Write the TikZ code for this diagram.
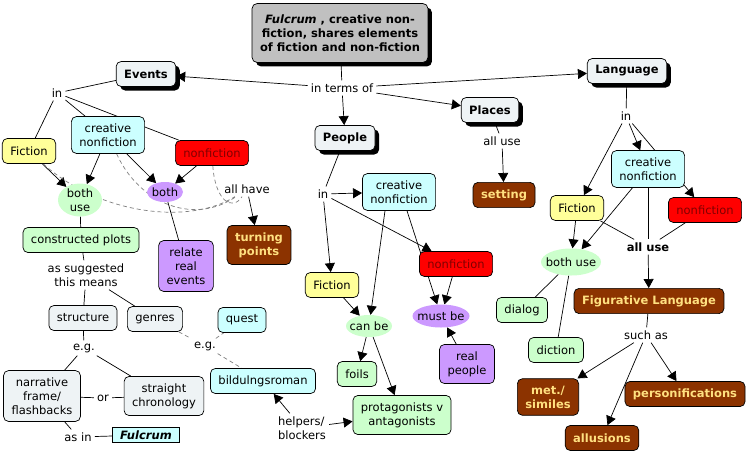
\documentclass[tikz,border=0pt]{standalone}
\usepackage{fontspec}
\setmainfont{DejaVu Sans}
\usetikzlibrary{arrows.meta,shapes.geometric,shadows,backgrounds}
\definecolor{rootgray}{RGB}{192,192,192}
\definecolor{palegray}{RGB}{238,243,245}
\definecolor{ficyellow}{RGB}{255,255,153}
\definecolor{cnfcyan}{RGB}{204,255,255}
\definecolor{nfred}{RGB}{255,0,0}
\definecolor{nftext}{RGB}{128,0,0}
\definecolor{mint}{RGB}{204,255,204}
\definecolor{lilac}{RGB}{204,153,255}
\definecolor{rust}{RGB}{140,51,0}
\definecolor{gold}{RGB}{255,224,128}
\newcommand{\mapfont}{\fontsize{11.5}{14}\selectfont}
\begin{document}
\begin{tikzpicture}[x=1pt,y=-1pt,
    conceptbox/.style={draw, rounded corners=5pt, line width=0.7pt, align=center, inner xsep=8pt, inner ysep=7pt, minimum height=25pt, font=\mapfont},
    topbox/.style={conceptbox, fill=palegray, font=\mapfont\bfseries, drop shadow={shadow xshift=4pt, shadow yshift=-4pt, fill=black, opacity=1}},
    rootbox/.style={topbox, fill=rootgray, inner ysep=11pt},
    ficbox/.style={conceptbox, fill=ficyellow},
    cnfbox/.style={conceptbox, fill=cnfcyan},
    nfbox/.style={conceptbox, fill=nfred, text=nftext},
    mintbox/.style={conceptbox, fill=mint},
    lilacbox/.style={conceptbox, fill=lilac},
    plainbox/.style={conceptbox, fill=palegray},
    rustbox/.style={conceptbox, fill=rust, text=gold, font=\mapfont\bfseries},
    oval/.style={ellipse, fill=mint, inner xsep=-4pt, inner ysep=2pt, font=\mapfont},
    link/.style={inner sep=3pt, align=center, font=\mapfont},
    fulc/.style={draw, fill=cnfcyan, line width=1pt, inner xsep=7.5pt, inner ysep=3.5pt, font=\mapfont\bfseries\itshape},
    conn/.style={line width=0.7pt},
    arr/.style={conn, -{Triangle[length=9pt,width=10pt]}},
    xlink/.style={conn, gray, dash pattern=on 4pt off 3pt}]
    \useasboundingbox (0,0) rectangle (749,453);

    \node[rootbox] (root) at (340,33) {{\itshape Fulcrum} , creative non-\\fiction, shares elements\\of fiction and non-fiction};
    \node[link] (terms) at (342,88) {in terms of};
    \node[topbox] (events) at (146,74) {Events};
    \node[topbox] (language) at (627,71) {Language};
    \node[topbox] (places) at (490,110) {Places};
    \node[topbox] (people) at (345,138) {People};

    \node[link] (evin) at (57,93) {in};
    \node[ficbox] (evfic) at (29,151) {Fiction};
    \node[cnfbox] (evcnf) at (108,135) {creative\\nonfiction};
    \node[nfbox] (evnf) at (212,153) {nonfiction};
    \node[oval, align=center, inner ysep=0pt, minimum width=44pt, minimum height=33pt] (evbothuse) at (80,200) {both\\use};
    \node[oval, fill=lilac, minimum width=36pt, minimum height=20pt] (evboth) at (165,192) {both};
    \node[link] (allhave) at (247,189) {all have};
    \node[rustbox] (turning) at (259,245) {turning\\points};
    \node[mintbox] (plots) at (81,240) {constructed plots};
    \node[lilacbox] (relate) at (186,266) {relate\\real\\events};
    \node[link] (suggested) at (86,275) {as suggested\\this means};
    \node[plainbox] (structure) at (83,318) {structure};
    \node[plainbox] (genres) at (155,319) {genres};
    \node[cnfbox] (quest) at (242,320) {quest};
    \node[link] (eg1) at (84,348) {e.g.};
    \node[link] (eg2) at (205,346) {e.g.};
    \node[plainbox] (narrative) at (42,396) {narrative\\frame/\\flashbacks};
    \node[link] (or) at (103,398) {or};
    \node[plainbox] (straight) at (164,396) {straight\\chronology};
    \node[cnfbox] (bildung) at (263,381) {bildulngsroman};
    \node[link] (asin) at (78,437) {as in};
    \node[fulc] (fulcrum) at (146,435) {Fulcrum};
    \node[link, align=left] (helpers) at (302,428) {helpers/\\blockers};
    \node[mintbox] (protag) at (402,415) {protagonists v\\antagonists};

    \node[link] (pin) at (323,194) {in};
    \node[cnfbox] (pcnf) at (399,192) {creative\\nonfiction};
    \node[ficbox] (pfic) at (332,285) {Fiction};
    \node[nfbox] (pnf) at (456,264) {nonfiction};
    \node[oval, minimum width=46pt, minimum height=22pt] (canbe) at (369,326) {can be};
    \node[oval, fill=lilac, minimum width=57pt, minimum height=23pt] (mustbe) at (441,316) {must be};
    \node[mintbox] (foils) at (357,374) {foils};
    \node[lilacbox] (realpeople) at (467,364) {real\\people};

    \node[link] (placeuse) at (502,141) {all use};
    \node[rustbox] (setting) at (504,195) {setting};

    \node[link] (lin) at (626,116) {in};
    \node[cnfbox] (lcnf) at (648,169) {creative\\nonfiction};
    \node[ficbox] (lfic) at (577,208) {Fiction};
    \node[nfbox] (lnf) at (705,210) {nonfiction};
    \node[oval, minimum width=60pt, minimum height=27pt] (lbothuse) at (571,262) {both use};
    \node[link, font=\mapfont\bfseries] (lalluse) at (648,247) {all use};
    \node[rustbox] (figlang) at (649,301) {Figurative Language};
    \node[mintbox] (dialog) at (522,310) {dialog};
    \node[mintbox] (diction) at (556,350) {diction};
    \node[link] (suchas) at (646,335) {such as};
    \node[rustbox] (metsim) at (548,397) {met./\\similes};
    \node[rustbox] (personif) at (685,394) {personifications};
    \node[rustbox] (allusions) at (602,438) {allusions};

    \begin{scope}[on background layer]
    \fill[white] (0,0) rectangle (749,453);
    \draw[conn] (root) -- (terms);
    \draw[arr] (terms) -- (events);
    \draw[arr] (terms) -- (language);
    \draw[arr] (terms) -- (places);
    \draw[arr] (terms) -- (people);

    \draw[conn] (events) -- (evin);
    \draw[conn] (evin) -- (evfic);
    \draw[conn] (evin) -- (evcnf);
    \draw[conn] (evin) -- (evnf);
    \draw[arr] (evfic) -- (evbothuse);
    \draw[arr] (evcnf) -- (evbothuse);
    \draw[arr] (evcnf) -- (evboth);
    \draw[arr] (evnf) -- (evboth);
    \draw[xlink] (evfic) .. controls (100,215) and (190,225) .. (allhave);
    \draw[xlink] (evcnf) .. controls (140,205) and (195,225) .. (allhave);
    \draw[xlink] (evnf) .. controls (215,200) and (232,212) .. (allhave);
    \draw[arr] (allhave) -- (turning);
    \draw[conn] (evbothuse) -- (plots);
    \draw[conn] (evboth) -- (relate);
    \draw[conn] (plots) -- (suggested);
    \draw[conn] (suggested) -- (structure);
    \draw[conn] (suggested) -- (genres);
    \draw[conn] (structure) -- (eg1);
    \draw[conn] (eg1) -- (narrative);
    \draw[conn] (eg1) -- (straight);
    \draw[conn] (narrative) -- (or);
    \draw[conn] (or) -- (straight);
    \draw[conn] (narrative) -- (asin);
    \draw[conn] (asin) -- (fulcrum);
    \draw[xlink] (genres) -- (eg2);
    \draw[xlink] (eg2) -- (quest);
    \draw[xlink] (eg2) -- (bildung);
    \draw[arr] (helpers) -- (bildung);
    \draw[arr] (helpers) -- (protag);

    \draw[conn] (people) -- (pin);
    \draw[arr] (pin) -- (pcnf);
    \draw[arr] (pin) -- (pfic);
    \draw[arr] (pin) -- (pnf);
    \draw[arr] ([xshift=-14pt]pcnf.south) -- (canbe);
    \draw[arr] ([xshift=8pt]pcnf.south) -- (mustbe);
    \draw[arr] (pnf) -- (mustbe);
    \draw[arr] (pfic) -- (canbe);
    \draw[arr] (canbe) -- (foils);
    \draw[arr] (canbe) -- (protag);
    \draw[arr] (realpeople) -- (mustbe);

    \draw[conn] (places) -- (placeuse);
    \draw[arr] (placeuse) -- (setting);

    \draw[conn] (language) -- (lin);
    \draw[arr] (lin) -- (lfic);
    \draw[arr] (lin) -- (lcnf);
    \draw[arr] (lin) -- (lnf);
    \draw[arr] (lfic) -- (lbothuse);
    \draw[arr] (lcnf) -- (lbothuse);
    \draw[conn] (lfic) -- (lalluse);
    \draw[conn] (lcnf) -- (lalluse);
    \draw[conn] (lnf) -- (lalluse);
    \draw[arr] (lalluse) -- (figlang);
    \draw[conn] (lbothuse) -- (dialog);
    \draw[conn] (lbothuse) -- (diction);
    \draw[conn] (figlang) -- (suchas);
    \draw[arr] (suchas) -- (metsim);
    \draw[arr] (suchas) -- (allusions);
    \draw[arr] (suchas) -- (personif);
    \end{scope}
\end{tikzpicture}
\end{document}
